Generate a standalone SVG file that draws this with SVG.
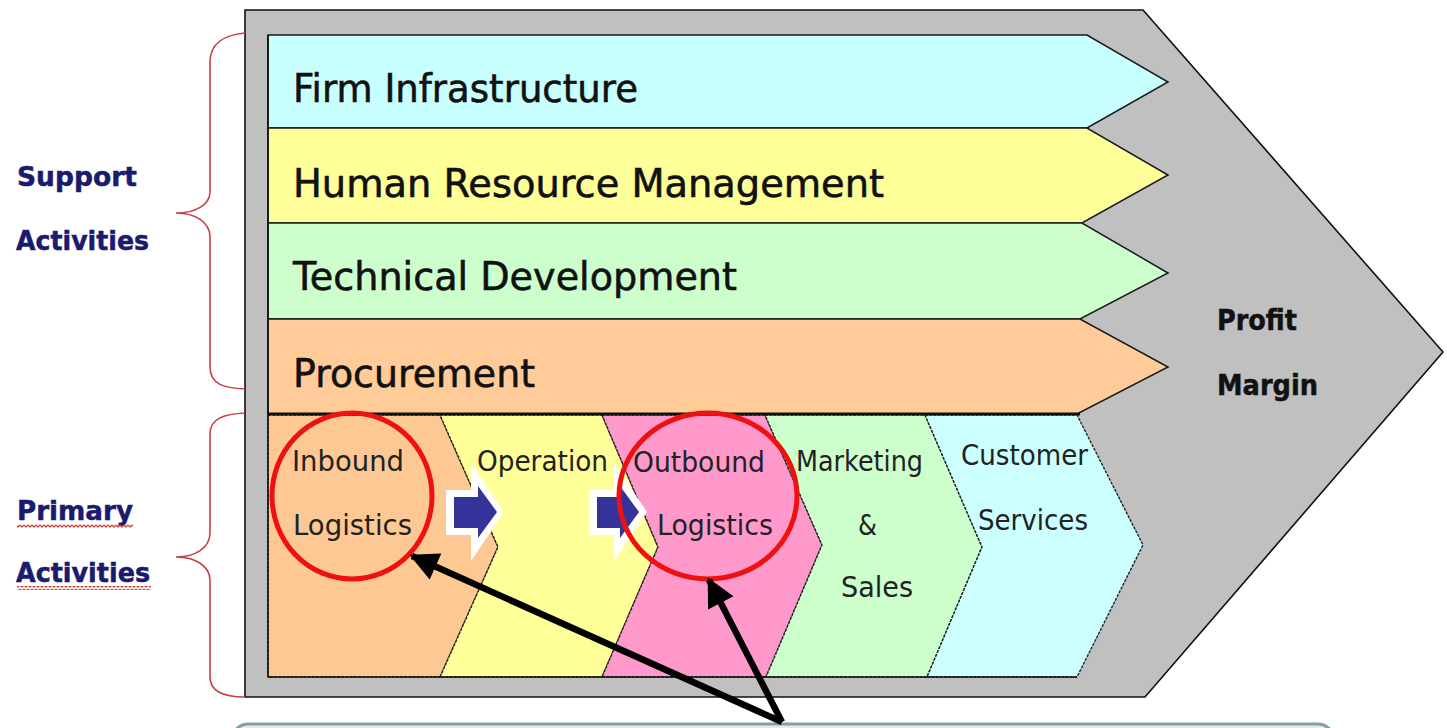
<svg xmlns="http://www.w3.org/2000/svg" width="1447" height="728" viewBox="0 0 1447 728">
<style>
.row{stroke:#1a1a1a;stroke-width:1.5}
.seg{stroke:#222;stroke-width:1.4;stroke-dasharray:3 1.2}
.big{font-family:"DejaVu Sans","Liberation Sans",sans-serif;font-size:39px;fill:#111;stroke:#111;stroke-width:0.6}
.act{font-family:"DejaVu Sans","Liberation Sans",sans-serif;font-size:28px;fill:#222}
.lab{font-family:"DejaVu Sans","Liberation Sans",sans-serif;font-size:27px;font-weight:bold;fill:#1a1a6e;stroke:#1a1a6e;stroke-width:0.5}
.pm{font-family:"DejaVu Sans","Liberation Sans",sans-serif;font-size:28px;font-weight:bold;fill:#111;stroke:#111;stroke-width:0.5}
.brace{fill:none;stroke:#c8404a;stroke-width:1.6}
.circ{fill:none;stroke:#ee1111;stroke-width:5}
.blk{stroke:#000;stroke-width:6.5;fill:none}
</style>
<defs>
<marker id="ah" viewBox="0 0 10 10" refX="9" refY="5" markerWidth="5" markerHeight="4.4" orient="auto" markerUnits="strokeWidth">
<path d="M0,0 L10,5 L0,10 Z" fill="#000"/>
</marker>
<pattern id="squig" patternUnits="userSpaceOnUse" width="4" height="4">
<path d="M0,1 L2,3 L4,1" fill="none" stroke="#d04a3a" stroke-width="1.3"/>
</pattern>
</defs>
<rect width="1447" height="728" fill="#fff"/>
<rect x="232" y="724" width="1102" height="40" rx="16" fill="#e3ebeb" stroke="#85a0a0" stroke-width="3"/>

<g id="frame">
<polygon points="245,10 1143,10 1443,352 1145,697 245,697" fill="#c0c0c0" stroke="#111" stroke-width="1.6"/>
</g>

<g id="firm-infrastructure">
<polygon class="row" points="268,35 1087,35 1168,82 1087,128 268,128" fill="#c8ffff"/>
<text class="big" x="293" y="102" textLength="345" lengthAdjust="spacingAndGlyphs">Firm Infrastructure</text>
</g>
<g id="human-resource">
<polygon class="row" points="268,128 1087,128 1168,175 1082,223 268,223" fill="#ffff99"/>
<text class="big" x="293" y="197" textLength="591" lengthAdjust="spacingAndGlyphs">Human Resource Management</text>
</g>
<g id="technical-development">
<polygon class="row" points="268,223 1082,223 1168,273 1080,319 268,319" fill="#ccffcc"/>
<text class="big" x="293" y="290" textLength="444" lengthAdjust="spacingAndGlyphs">Technical Development</text>
</g>
<g id="procurement">
<polygon class="row" points="268,319 1080,319 1168,367 1077,414 268,414" fill="#ffcc99"/>
<text class="big" x="293" y="387" textLength="242" lengthAdjust="spacingAndGlyphs">Procurement</text>
</g>

<g id="inbound-logistics">
<polygon class="seg" points="268,415 440,415 498,547 440,677 268,677" fill="#fdc893"/>
<text class="act" x="292" y="471" textLength="112" lengthAdjust="spacingAndGlyphs" fill="#2a1a10">Inbound</text>
<text class="act" x="293" y="535" textLength="119" lengthAdjust="spacingAndGlyphs">Logistics</text>
</g>
<g id="operation">
<polygon class="seg" points="440,415 602,415 658,547 602,677 440,677 498,547" fill="#ffff99"/>
<text class="act" x="477" y="471" textLength="131" lengthAdjust="spacingAndGlyphs">Operation</text>
</g>
<g id="outbound-logistics">
<polygon class="seg" points="602,415 765,415 822,545 766,677 602,677 658,547" fill="#ff99cc"/>
<text class="act" x="633" y="472" textLength="132" lengthAdjust="spacingAndGlyphs" fill="#3a0a2a">Outbound</text>
<text class="act" x="657" y="535" textLength="116" lengthAdjust="spacingAndGlyphs" fill="#3a0a2a">Logistics</text>
</g>
<g id="marketing-sales">
<polygon class="seg" points="765,415 925,415 982,547 927,677 766,677 822,545" fill="#ccffcc"/>
<text class="act" x="796" y="471" textLength="127" lengthAdjust="spacingAndGlyphs">Marketing</text>
<text class="act" x="858" y="535" textLength="19" lengthAdjust="spacingAndGlyphs">&amp;</text>
<text class="act" x="841" y="597" textLength="72" lengthAdjust="spacingAndGlyphs">Sales</text>
</g>
<g id="customer-services">
<polygon class="seg" points="925,415 1077,415 1143,545 1077,677 927,677 982,547" fill="#ccffff"/>
<text class="act" x="961" y="465" textLength="127" lengthAdjust="spacingAndGlyphs">Customer</text>
<text class="act" x="978" y="530" textLength="110" lengthAdjust="spacingAndGlyphs">Services</text>
</g>
<line x1="268" y1="414" x2="1080" y2="414" stroke="#111" stroke-width="3"/>
<line x1="268" y1="35" x2="268" y2="677" stroke="#111" stroke-width="1.6"/>
<line x1="268" y1="677" x2="1077" y2="677" stroke="#111" stroke-width="1.6"/>

<g id="profit-margin">
<text class="pm" x="1217" y="330" textLength="80" lengthAdjust="spacingAndGlyphs">Profit</text>
<text class="pm" x="1217" y="395" textLength="101" lengthAdjust="spacingAndGlyphs">Margin</text>
</g>

<g id="support-activities">
<path class="brace" d="M245,33 C225,35 210,42 210,62 L210,192 C210,205 195,213 176,213 C195,213 210,222 210,237 L210,367 C210,385 225,388 245,389"/>
<text class="lab" x="17" y="186" textLength="120" lengthAdjust="spacingAndGlyphs">Support</text>
<text class="lab" x="16" y="250" textLength="133" lengthAdjust="spacingAndGlyphs">Activities</text>
</g>
<g id="primary-activities">
<path class="brace" d="M245,413 C225,414 210,418 210,434 L210,533 C210,548 195,557 176,557 C195,557 210,566 210,580 L210,677 C210,692 225,697 245,697"/>
<text class="lab" x="17" y="520" textLength="116" lengthAdjust="spacingAndGlyphs">Primary</text>
<text class="lab" x="16" y="582" textLength="134" lengthAdjust="spacingAndGlyphs">Activities</text>
<rect x="17" y="524" width="116" height="4" fill="url(#squig)"/>
<rect x="17" y="586" width="134" height="4" fill="url(#squig)"/>
</g>

<g id="flow-arrows">
<polygon points="446,490 471,490 471,463 504,512 471,561 471,535 446,535" fill="#fff"/>
<polygon points="454,497 478,497 478,486 497,512 478,538 478,528 454,528" fill="#333399"/>
<polygon points="589,490 614,490 614,463 647,512 614,561 614,535 589,535" fill="#fff"/>
<polygon points="597,497 620,497 620,486 639,512 620,538 620,528 597,528" fill="#333399"/>
</g>

<g id="highlights">
<ellipse class="circ" cx="352" cy="496" rx="80" ry="83"/>
<ellipse class="circ" cx="708" cy="496" rx="89" ry="83"/>
</g>

<g id="connectors">
<line class="blk" x1="782" y1="722" x2="412" y2="556" marker-end="url(#ah)"/>
<line class="blk" x1="782" y1="722" x2="709" y2="580" marker-end="url(#ah)"/>
</g>
</svg>
